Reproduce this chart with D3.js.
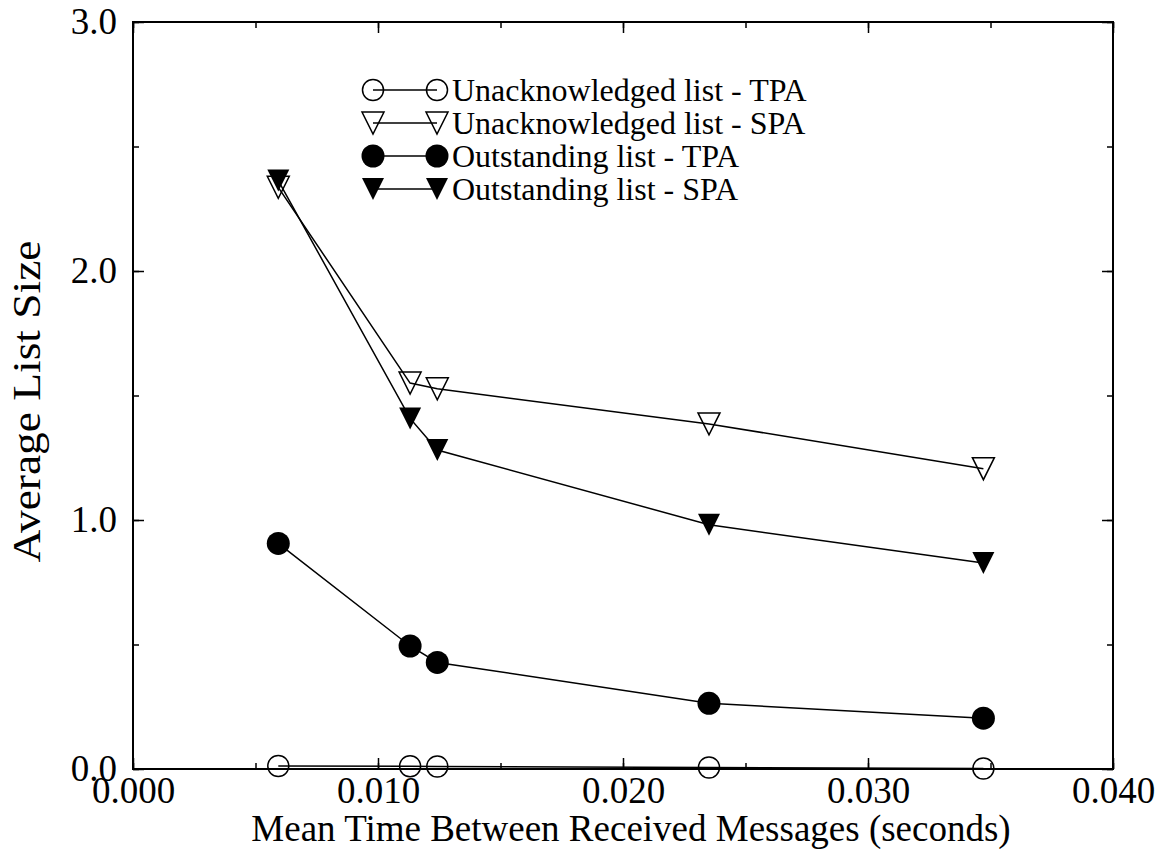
<!DOCTYPE html>
<html lang="en">
  <head>
    <meta charset="utf-8">
    <title>Average List Size</title>
    <style>
      body {
        margin: 0;
        background: #fff;
      }
      svg {
        display: block;
        font-family: "Liberation Serif", "Times New Roman", Times, serif;
      }
    </style>
    <script src="https://d3js.org/d3.v7.min.js"></script>
  </head>
  <body>
    <script>
    // data
    const meanTime = [0.00593, 0.01131, 0.01242, 0.02351, 0.03471]
    const unackTPA = [0.012, 0.011, 0.010, 0.006, 0.002]
    const unackSPA = [2.336, 1.550, 1.527, 1.386, 1.206]
    const outTPA = [0.906, 0.494, 0.428, 0.264, 0.204]
    const outSPA = [2.363, 1.408, 1.281, 0.981, 0.827]
    const seriesNames = ["Unacknowledged list - TPA", "Unacknowledged list - SPA",
      "Outstanding list - TPA", "Outstanding list - SPA"]
    const xTicks = [0, 0.01, 0.02, 0.03, 0.04]
    const yTicks = [0, 1, 2, 3]

    const series = [
      { name: seriesNames[0], values: unackTPA, shape: "circle", filled: false },
      { name: seriesNames[1], values: unackSPA, shape: "triangle", filled: false },
      { name: seriesNames[2], values: outTPA, shape: "circle", filled: true },
      { name: seriesNames[3], values: outSPA, shape: "triangle", filled: true }
    ]

    const font = "Liberation Serif, Times New Roman, Times, serif"

    const margin = { top: 22, left: 133, right: 53, bottom: 80 },
      width = 1166 - margin.left - margin.right,
      height = 849 - margin.top - margin.bottom

    const svg = d3.select("body")
      .append("svg")
      .attr("width", 1166)
      .attr("height", 849)
      .append("g")
      .attr("transform", `translate(${margin.left},${margin.top})`)

    const x = d3.scaleLinear().domain([0, 0.04]).range([0, width])
    const y = d3.scaleLinear().domain([0, 3]).range([height, 0])

    const minorX = d3.range(0, 0.0401, 0.005)
    const minorY = d3.range(0, 3.01, 0.5)

    // minor ticks on all four sides
    const minorAxes = [
      [d3.axisBottom(x).tickValues(minorX), `translate(0,${height})`],
      [d3.axisTop(x).tickValues(minorX), null],
      [d3.axisLeft(y).tickValues(minorY), null],
      [d3.axisRight(y).tickValues(minorY), `translate(${width},0)`]
    ]
    minorAxes.forEach(([ax, tr]) => {
      svg.append("g")
        .attr("transform", tr)
        .call(ax.tickSize(-6).tickFormat(""))
        .call(g => g.select(".domain").remove())
        .call(g => g.selectAll(".tick line").attr("stroke-width", 1.5))
    })

    // major ticks
    svg.append("g")
      .attr("transform", `translate(0,${height})`)
      .call(d3.axisBottom(x).tickValues(xTicks).tickSize(-11).tickPadding(8).tickFormat(d3.format(".3f")))
      .call(g => g.select(".domain").remove())
      .call(g => g.selectAll(".tick line").attr("stroke-width", 1.5))
      .call(g => g.selectAll("text").attr("font-size", 37).attr("font-family", font).attr("fill", "#000"))

    svg.append("g")
      .call(d3.axisLeft(y).tickValues(yTicks).tickSize(-11).tickPadding(16).tickFormat(d3.format(".1f")))
      .call(g => g.select(".domain").remove())
      .call(g => g.selectAll(".tick line").attr("stroke-width", 1.5))
      .call(g => g.selectAll("text").attr("font-size", 37).attr("font-family", font).attr("fill", "#000"))

    svg.append("g")
      .call(d3.axisTop(x).tickValues(xTicks).tickSize(-11).tickFormat(""))
      .call(g => g.select(".domain").remove())
      .call(g => g.selectAll(".tick line").attr("stroke-width", 1.5))

    svg.append("g")
      .attr("transform", `translate(${width},0)`)
      .call(d3.axisRight(y).tickValues(yTicks).tickSize(-11).tickFormat(""))
      .call(g => g.select(".domain").remove())
      .call(g => g.selectAll(".tick line").attr("stroke-width", 1.5))

    // frame
    svg.append("rect")
      .attr("width", width)
      .attr("height", height)
      .attr("fill", "none")
      .attr("stroke", "#000")
      .attr("stroke-width", 2)

    // axis titles
    svg.append("text")
      .attr("x", width / 2 + 8)
      .attr("y", height + 72)
      .attr("text-anchor", "middle")
      .attr("font-size", 37)
      .text("Mean Time Between Received Messages (seconds)")

    svg.append("text")
      .attr("transform", `translate(${40 - margin.left},${height / 2 + 6}) rotate(-90)`)
      .attr("text-anchor", "middle")
      .attr("font-size", 40)
      .attr("textLength", 322)
      .attr("lengthAdjust", "spacingAndGlyphs")
      .text("Average List Size")

    const triangle = "M-11,-11L11,-11L0,11Z"

    function marker(sel, s) {
      if (s.shape === "circle") {
        sel.append("circle")
          .attr("r", s.filled ? 11.5 : 10.5)
          .attr("fill", s.filled ? "#000" : "none")
          .attr("stroke", "#000")
          .attr("stroke-width", s.filled ? 0 : 1.5)
      } else {
        sel.append("path")
          .attr("d", triangle)
          .attr("fill", s.filled ? "#000" : "none")
          .attr("stroke", "#000")
          .attr("stroke-width", s.filled ? 0 : 1.5)
      }
    }

    const line = d3.line()
      .x((d, i) => x(meanTime[i]))
      .y(d => y(d))

    series.forEach(s => {
      svg.append("path")
        .datum(s.values)
        .attr("d", line)
        .attr("fill", "none")
        .attr("stroke", "#000")
        .attr("stroke-width", 1.5)

      svg.append("g")
        .selectAll("g")
        .data(s.values)
        .join("g")
        .attr("transform", (d, i) => `translate(${x(meanTime[i])},${y(d)})`)
        .each(function() { marker(d3.select(this), s) })
    })

    // legend
    const legend = svg.append("g")
      .attr("transform", `translate(${373 - margin.left},${90 - margin.top})`)

    const rows = legend.selectAll("g")
      .data(series)
      .join("g")
      .attr("transform", (d, i) => `translate(0,${i * 33})`)

    rows.append("line")
      .attr("x1", 0)
      .attr("x2", 64)
      .attr("stroke", "#000")
      .attr("stroke-width", 1.5)

    rows.each(function(s) {
      marker(d3.select(this).append("g"), s)
      marker(d3.select(this).append("g").attr("transform", "translate(64,0)"), s)
    })

    rows.append("text")
      .attr("x", 79)
      .attr("y", 11)
      .attr("font-size", 32)
      .text(d => d.name)
    </script>
  </body>
</html>
